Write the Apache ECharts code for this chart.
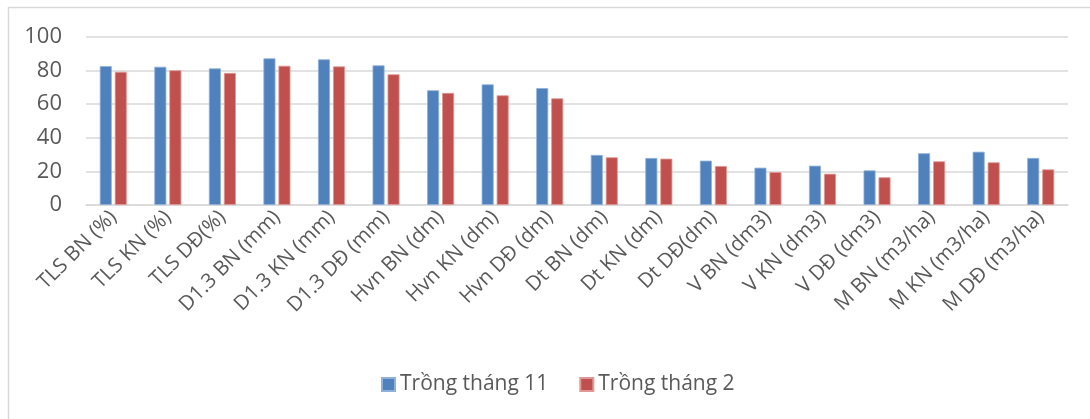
<!DOCTYPE html>
<html>
<head>
<meta charset="utf-8">
<script src="https://cdn.jsdelivr.net/npm/echarts@6/dist/echarts.min.js"></script>
<style>
  html, body { margin: 0; padding: 0; background: #fff; }
  #chart { width: 1090px; height: 419px; }
</style>
</head>
<body>
<div id="chart"></div>
<script>
// Chỉ tiêu sinh trưởng theo thời vụ trồng
const categories = [
  'TLS BN (%)', 'TLS KN (%)', 'TLS DĐ(%)',
  'D1.3 BN (mm)', 'D1.3 KN (mm)', 'D1.3 DĐ (mm)',
  'Hvn BN (dm)', 'Hvn KN (dm)', 'Hvn DĐ (dm)',
  'Dt BN (dm)', 'Dt KN (dm)', 'Dt DĐ(dm)',
  'V BN (dm3)', 'V KN (dm3)', 'V DĐ (dm3)',
  'M BN (m3/ha)', 'M KN (m3/ha)', 'M DĐ (m3/ha)'
];
const seriesNames = ['Trồng tháng 11', 'Trồng tháng 2'];
const thang11 = [82.7, 82.3, 81.3, 87.3, 86.7, 83.1, 68.3, 71.8, 69.6, 29.8, 28.0, 26.4, 22.2, 23.4, 20.6, 30.8, 31.7, 28.0];
const thang2  = [79.3, 80.2, 78.6, 82.9, 82.5, 77.8, 66.7, 65.3, 63.5, 28.4, 27.6, 23.2, 19.6, 18.6, 16.5, 26.0, 25.4, 21.2];
const yTicks = { min: 0, max: 100, interval: 20 };

const FONT = '"Open Sans", "Noto Sans", sans-serif';
const TEXT = '#595959';
const GRID = '#d9d9d9';

const chart = echarts.init(document.getElementById('chart'), null, { renderer: 'canvas' });
chart.setOption({
  animation: false,
  backgroundColor: '#fff',
  graphic: [{
    type: 'rect',
    shape: { x: 8.5, y: 7.5, width: 1200, height: 500 },
    style: { fill: 'none', stroke: GRID, lineWidth: 1.5 },
    silent: true
  }],
  grid: { left: 86, right: 22, top: 37, bottom: 214 },
  legend: {
    data: seriesNames,
    left: 376, top: 369,
    itemWidth: 13, itemHeight: 13, itemGap: 31,
    icon: 'rect',
    textStyle: { fontFamily: FONT, fontSize: 21, color: TEXT, padding: [0, 0, 0, 0] }
  },
  xAxis: {
    type: 'category',
    data: categories,
    axisLine: { show: true, lineStyle: { color: GRID, width: 1.5 } },
    axisTick: { show: false },
    axisLabel: {
      rotate: 45, interval: 0, margin: 9,
      fontFamily: FONT, fontSize: 20.5, color: TEXT
    }
  },
  yAxis: {
    type: 'value',
    min: yTicks.min, max: yTicks.max, interval: yTicks.interval,
    axisLine: { show: false },
    axisTick: { show: false },
    splitLine: { lineStyle: { color: GRID, width: 1.5 } },
    axisLabel: { fontFamily: FONT, fontSize: 22, color: TEXT, margin: 24 }
  },
  series: [
    {
      name: seriesNames[0], type: 'bar', data: thang11,
      barWidth: 12, barGap: '25%',
      itemStyle: { color: '#4F81BD', borderColor: '#8fb0d9', borderWidth: 0.8 }
    },
    {
      name: seriesNames[1], type: 'bar', data: thang2,
      barWidth: 12, barGap: '25%',
      itemStyle: { color: '#C0504D', borderColor: '#e09896', borderWidth: 0.8 }
    }
  ]
});
</script>
</body>
</html>
